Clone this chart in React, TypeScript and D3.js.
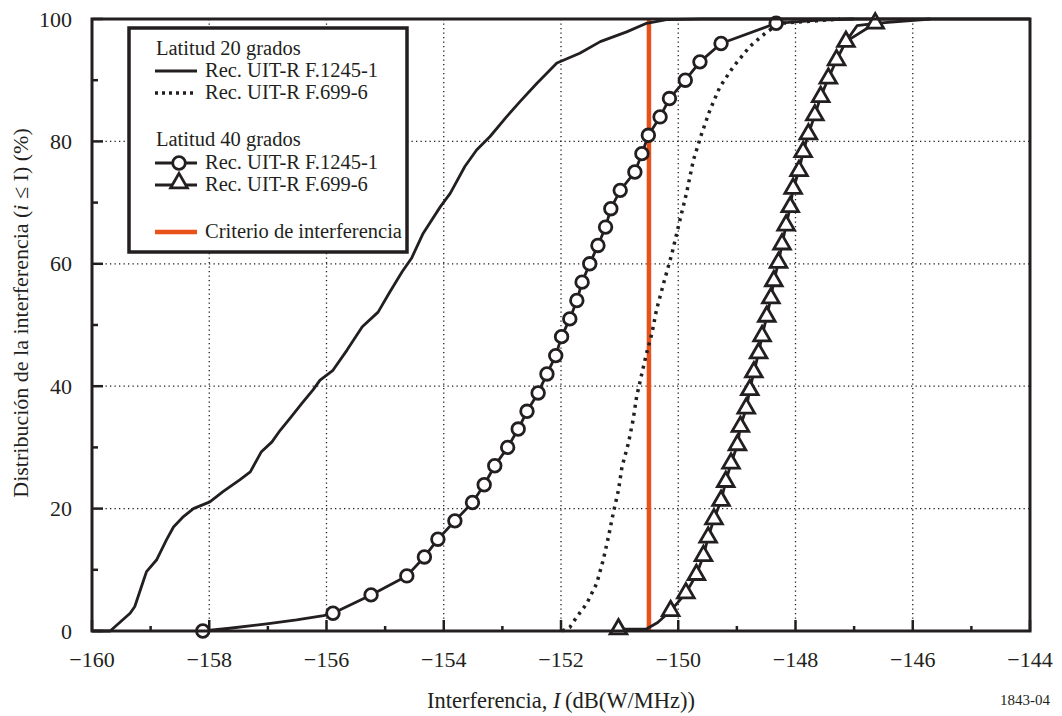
import React, { useEffect, useRef } from "react";
import * as d3 from "d3";

// Latitud 20 grados, Rec. UIT-R F.1245-1 (trazo continuo)
const lat20F1245: [number, number][] = [
  [-160, 0], [-159.69, 0], [-159.35, 2.9], [-159.27, 4.0], [-159.12, 8.3], [-159.07, 9.7],
  [-158.9, 11.6], [-158.73, 14.9], [-158.61, 17.0], [-158.44, 18.7], [-158.27, 20.0],
  [-157.99, 21.1], [-157.76, 22.8], [-157.48, 24.7], [-157.3, 26.0], [-157.11, 29.3],
  [-156.93, 30.9], [-156.79, 32.8], [-156.62, 34.8], [-156.42, 37.2], [-156.23, 39.4],
  [-156.11, 41.0], [-155.89, 42.6], [-155.65, 45.9], [-155.39, 49.7], [-155.12, 52.1],
  [-154.92, 55.4], [-154.71, 58.7], [-154.55, 60.9], [-154.35, 65.0], [-154.06, 69.3],
  [-153.89, 71.5], [-153.64, 75.9], [-153.44, 78.6], [-153.21, 80.8], [-152.93, 84.0],
  [-152.7, 86.5], [-152.41, 89.5], [-152.07, 92.8], [-151.68, 94.4], [-151.33, 96.3],
  [-150.88, 97.9], [-150.54, 99.3], [-150.2, 99.9], [-149.6, 100], [-144, 100],
];

// Latitud 20 grados, Rec. UIT-R F.699-6 (punteado)
const lat20F699: [number, number][] = [
  [-151.98, 0], [-151.85, 0.6], [-151.73, 2.3], [-151.56, 4.5], [-151.39, 7.8],
  [-151.28, 11.6], [-151.19, 15.4], [-151.11, 19.2], [-151.02, 23.0], [-150.96, 26.8],
  [-150.85, 30.7], [-150.77, 34.5], [-150.71, 38.3], [-150.62, 42.1], [-150.54, 45.4],
  [-150.45, 48.6], [-150.37, 52.5], [-150.25, 56.8], [-150.11, 61.6], [-149.97, 67.2],
  [-149.86, 71.5], [-149.74, 77.0], [-149.6, 81.3], [-149.46, 85.1], [-149.29, 88.9],
  [-149.06, 92.2], [-148.78, 95.5], [-148.49, 97.9], [-148.26, 99.3], [-147.64, 99.7],
  [-147.24, 100],
];

// Latitud 40 grados, Rec. UIT-R F.1245-1 (círculos)
const lat40F1245: [number, number][] = [
  [-158.11, 0], [-155.89, 2.9], [-155.24, 5.9], [-154.63, 9.0], [-154.33, 12.1],
  [-154.1, 15.0], [-153.81, 18.0], [-153.51, 21.0], [-153.31, 23.9], [-153.13, 27.0],
  [-152.91, 30.0], [-152.73, 33.0], [-152.58, 35.9], [-152.39, 38.9], [-152.24, 42.0],
  [-152.09, 45.0], [-151.99, 48.1], [-151.85, 51.0], [-151.73, 54.0], [-151.64, 57.0],
  [-151.51, 60.0], [-151.37, 63.0], [-151.24, 66.0], [-151.15, 69.0], [-150.99, 72.0],
  [-150.74, 75.0], [-150.62, 78.0], [-150.51, 81.0], [-150.31, 84.0], [-150.15, 87.0],
  [-149.88, 90.0], [-149.63, 93.0], [-149.27, 96.0], [-148.33, 99.3],
];
const lat40F1245Head: [number, number][] = [
  [-158.11, 0], [-157.65, 0.45], [-157.02, 1.15], [-156.51, 1.8], [-156.05, 2.5], [-155.89, 2.9],
];
const lat40F1245Tail: [number, number][] = [[-148.33, 99.3], [-147.6, 99.8], [-147.0, 100]];

// Latitud 40 grados, Rec. UIT-R F.699-6 (triángulos)
const lat40F699: [number, number][] = [
  [-151.02, 0.3], [-150.13, 3.3], [-149.87, 6.2], [-149.69, 9.2], [-149.57, 12.3],
  [-149.49, 15.3], [-149.39, 18.3], [-149.27, 21.3], [-149.19, 24.4], [-149.1, 27.4],
  [-148.99, 30.4], [-148.94, 33.4], [-148.84, 36.4], [-148.78, 39.4], [-148.71, 42.3],
  [-148.63, 45.4], [-148.57, 48.2], [-148.49, 51.4], [-148.42, 54.4], [-148.37, 57.2],
  [-148.29, 60.2], [-148.23, 63.2], [-148.16, 66.3], [-148.09, 69.3], [-148.04, 72.3],
  [-147.94, 75.2], [-147.87, 78.3], [-147.78, 81.2], [-147.67, 84.3], [-147.57, 87.3],
  [-147.44, 90.3], [-147.3, 93.3], [-147.14, 96.3], [-146.64, 99.3],
];
const lat40F699Head: [number, number][] = [
  [-151.02, 0.3], [-150.55, 0.3], [-150.35, 1.4], [-150.13, 3.3],
];
const lat40F699Tail: [number, number][] = [
  [-147.14, 96.3], [-146.95, 98.9], [-146.64, 99.3], [-145.7, 100],
];

const criterio = -150.5;

const xTicks = d3.range(-160, -143, 2);
const xMinor = d3.range(-159, -144, 2);
const yTicks = d3.range(0, 101, 20);
const yMinor = d3.range(10, 100, 20);

const legendRows = [
  { label: "Latitud 20 grados", kind: "title" },
  { label: "Rec. UIT-R F.1245-1", kind: "solid" },
  { label: "Rec. UIT-R F.699-6", kind: "dotted" },
  { label: "", kind: "gap" },
  { label: "Latitud 40 grados", kind: "title" },
  { label: "Rec. UIT-R F.1245-1", kind: "circle" },
  { label: "Rec. UIT-R F.699-6", kind: "triangle" },
  { label: "", kind: "gap" },
  { label: "Criterio de interferencia", kind: "red" },
];

const INK = "#231f20";
const RED = "#e9501a";
const FONT = "'Liberation Serif', 'Times New Roman', serif";
const LW = 2.8;

export default function App() {
  const svgRef = useRef<SVGSVGElement>(null);

  useEffect(() => {
    const width = 1062, height = 716;
    const m = { left: 92, right: 32, top: 19, bottom: 85 };
    const svg = d3.select(svgRef.current);
    svg.selectAll("*").remove();
    svg.attr("width", width).attr("height", height);

    const x = d3.scaleLinear().domain([-160, -144]).range([m.left, width - m.right]);
    const y = d3.scaleLinear().domain([0, 100]).range([height - m.bottom, m.top]);
    const [x0, x1] = x.range();
    const [y0, y1] = y.range();

    svg.append("rect").attr("width", width).attr("height", height).attr("fill", "#fff");

    // grid
    const grid = svg.append("g").attr("stroke", INK).attr("stroke-width", 1.3)
      .attr("stroke-dasharray", "1.3,3.2");
    grid.selectAll(".gx").data(xTicks.slice(1, -1)).enter().append("line")
      .attr("x1", d => x(d)).attr("x2", d => x(d)).attr("y1", y1).attr("y2", y0);
    grid.selectAll(".gy").data(yTicks.slice(1, -1)).enter().append("line")
      .attr("x1", x0).attr("x2", x1).attr("y1", d => y(d)).attr("y2", d => y(d));

    // ticks (inward)
    const ticks = svg.append("g").attr("stroke", INK).attr("stroke-width", 2.5);
    ticks.selectAll(".tx").data(xTicks).enter().append("line")
      .attr("x1", d => x(d)).attr("x2", d => x(d)).attr("y1", y0).attr("y2", y0 - 11);
    ticks.selectAll(".txm").data(xMinor).enter().append("line")
      .attr("x1", d => x(d)).attr("x2", d => x(d)).attr("y1", y0).attr("y2", y0 - 5);
    ticks.selectAll(".ty").data(yTicks).enter().append("line")
      .attr("x1", x0).attr("x2", x0 + 11).attr("y1", d => y(d)).attr("y2", d => y(d));
    ticks.selectAll(".tym").data(yMinor).enter().append("line")
      .attr("x1", x0).attr("x2", x0 + 6).attr("y1", d => y(d)).attr("y2", d => y(d));

    // tick labels
    svg.append("g").selectAll("text").data(xTicks).enter().append("text")
      .attr("x", d => x(d)).attr("y", y0 + 36).attr("text-anchor", "middle")
      .style("font-family", FONT).style("font-size", "22px").attr("fill", INK)
      .text(d => String(d).replace("-", "\u2212"));
    svg.append("g").selectAll("text").data(yTicks).enter().append("text")
      .attr("x", x0 - 20).attr("y", d => y(d) + 7.5).attr("text-anchor", "end")
      .style("font-family", FONT).style("font-size", "22px").attr("fill", INK)
      .text(d => d);

    const line = d3.line<[number, number]>().x(d => x(d[0])).y(d => y(d[1]));
    const plot = svg.append("g");

    // criterio de interferencia
    plot.append("line").attr("x1", x(criterio)).attr("x2", x(criterio))
      .attr("y1", y(0)).attr("y2", y(100)).attr("stroke", RED).attr("stroke-width", 4.5);

    plot.append("path").datum(lat20F1245).attr("d", line).attr("fill", "none")
      .attr("stroke", INK).attr("stroke-width", LW).attr("stroke-linejoin", "round");
    plot.append("path").datum(lat20F699).attr("d", line).attr("fill", "none")
      .attr("stroke", INK).attr("stroke-width", 3.5).attr("stroke-dasharray", "3,5");

    [lat40F1245Head, lat40F1245.slice(1), lat40F1245Tail, lat40F699Head, lat40F699.slice(1), lat40F699Tail]
      .forEach(s => {
        plot.append("path").datum(s).attr("d", line).attr("fill", "none")
          .attr("stroke", INK).attr("stroke-width", LW).attr("stroke-linejoin", "round");
      });

    plot.selectAll(".circ").data(lat40F1245).enter().append("circle")
      .attr("cx", d => x(d[0])).attr("cy", d => y(d[1])).attr("r", 6.3)
      .attr("fill", "#fff").attr("stroke", INK).attr("stroke-width", 2.8);

    const tri = d3.symbol().type(d3.symbolTriangle).size(120);
    plot.selectAll(".tri").data(lat40F699).enter().append("path")
      .attr("d", tri).attr("transform", d => `translate(${x(d[0])},${y(d[1])})`)
      .attr("fill", "#fff").attr("stroke", INK).attr("stroke-width", 2.8)
      .attr("stroke-linejoin", "miter");

    // frame
    svg.append("rect").attr("x", x0).attr("y", y1).attr("width", x1 - x0).attr("height", y0 - y1)
      .attr("fill", "none").attr("stroke", INK).attr("stroke-width", 3);

    // legend
    const lg = svg.append("g").attr("transform", "translate(129,28)");
    lg.append("rect").attr("width", 278).attr("height", 224)
      .attr("fill", "#fff").attr("stroke", INK).attr("stroke-width", 3.5);
    let yy = 27;
    legendRows.forEach(r => {
      if (r.kind === "gap") { yy += 25; return; }
      const g = lg.append("g").attr("transform", `translate(0,${yy})`);
      const sy = -6;
      if (r.kind === "title") {
        g.append("text").attr("x", 27).attr("y", 0).text(r.label);
      } else {
        g.append("text").attr("x", 76).attr("y", 0).text(r.label);
        const ln = g.append("line").attr("x1", 26).attr("x2", 68).attr("y1", sy).attr("y2", sy)
          .attr("stroke", r.kind === "red" ? RED : INK).attr("stroke-width", r.kind === "red" ? 4.5 : LW);
        if (r.kind === "dotted") ln.attr("stroke-width", 3.5).attr("stroke-dasharray", "3,4");
        if (r.kind === "circle") {
          g.append("circle").attr("cx", 50).attr("cy", sy).attr("r", 6.3)
            .attr("fill", "#fff").attr("stroke", INK).attr("stroke-width", 2.8);
        }
        if (r.kind === "triangle") {
          g.append("path").attr("d", tri).attr("transform", `translate(50,${sy - 2})`)
            .attr("fill", "#fff").attr("stroke", INK).attr("stroke-width", 2.8);
        }
      }
      g.selectAll("text").style("font-family", FONT).style("font-size", "20.5px").attr("fill", INK);
      yy += r.kind === "title" && r.label.includes("40") ? 23 : 22;
    });

    // axis titles
    const xt = svg.append("text").attr("x", (x0 + x1) / 2).attr("y", 708).attr("text-anchor", "middle")
      .style("font-family", FONT).style("font-size", "22.5px").attr("fill", INK);
    xt.append("tspan").text("Interferencia, ");
    xt.append("tspan").style("font-style", "italic").text("I");
    xt.append("tspan").text("\u2009(dB(W/MHz))");

    const yt = svg.append("text").attr("transform", `translate(28,${(y0 + y1) / 2 - 12}) rotate(-90)`)
      .attr("text-anchor", "middle")
      .style("font-family", FONT).style("font-size", "22px").attr("fill", INK);
    yt.append("tspan").text("Distribución de la interferencia (");
    yt.append("tspan").style("font-style", "italic").text("i");
    yt.append("tspan").text(" ≤ I) (%)");

    svg.append("text").attr("x", 1050).attr("y", 705).attr("text-anchor", "end")
      .style("font-family", FONT).style("font-size", "15px").attr("fill", INK).text("1843-04");
  }, []);

  return (
    <div style={{ position: "absolute", left: 0, top: 0 }}>
      <svg ref={svgRef}></svg>
    </div>
  );
}
